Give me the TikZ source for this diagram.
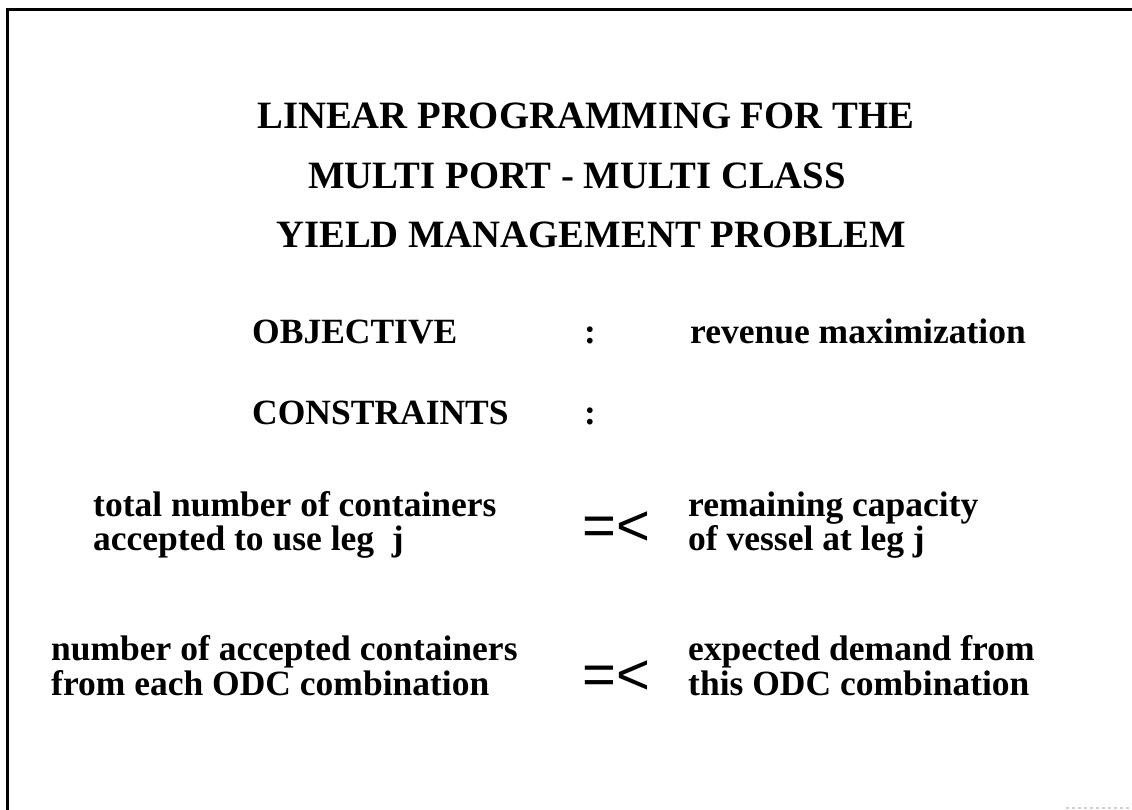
\documentclass[tikz,border=0pt]{standalone}
\usepackage{fontspec}
\setmainfont{Liberation Serif}
\newfontfamily\relfont{Liberation Sans}
\usepackage{tikz}
\usetikzlibrary{positioning}

\tikzset{
  heading/.style={anchor=base west, inner sep=0pt, font=\bfseries\fontsize{38.7}{40}\selectfont},
  bodytext/.style={anchor=base west, inner sep=0pt, font=\bfseries\fontsize{35.5}{36}\selectfont},
  relsym/.style={anchor=base west, inner sep=0pt, font=\relfont\fontsize{58}{58}\selectfont},
  frameline/.style={line width=3pt}
}

\begin{document}
\begin{tikzpicture}[x=1pt, y=-1pt]
  \useasboundingbox (0,0) rectangle (1132,810);

  % Frame (only left and top edges show)
  \draw[frameline] (7,810) -- (7,10) -- (1132,10);
  \draw[gray!35, line width=2pt, dashed] (1066,808) -- (1132,808);

  % Title
  \node[heading] (title1) at (257,129) {LINEAR PROGRAMMING FOR THE};
  \node[heading] (title2) at (308,189) {MULTI PORT - MULTI CLASS};
  \node[heading] (title3) at (276,248) {YIELD MANAGEMENT PROBLEM};

  % Objective
  \node[bodytext] (obj)      at (252,343) {OBJECTIVE};
  \node[bodytext] (objcolon) at (584,343) {:};
  \node[bodytext] (objval)   at (690,343) {revenue maximization};

  % Constraints
  \node[bodytext] (con)      at (252,424) {CONSTRAINTS};
  \node[bodytext] (concolon) at (584,424) {:};

  % Constraint 1
  \node[bodytext] (lhsA1) at (93,516) {total number of containers};
  \node[bodytext] (lhsA2) at (93,550) {accepted to use leg~~j};
  \node[relsym]   (relA)  at (582,545) {=<};
  \node[bodytext] (rhsA1) at (688,516) {remaining capacity};
  \node[bodytext] (rhsA2) at (688,550) {of vessel at leg j};

  % Constraint 2
  \node[bodytext] (lhsB1) at (51,660) {number of accepted containers};
  \node[bodytext] (lhsB2) at (51,695) {from each ODC combination};
  \node[relsym]   (relB)  at (582,694) {=<};
  \node[bodytext] (rhsB1) at (688,660) {expected demand from};
  \node[bodytext] (rhsB2) at (688,695) {this ODC combination};
\end{tikzpicture}
\end{document}
